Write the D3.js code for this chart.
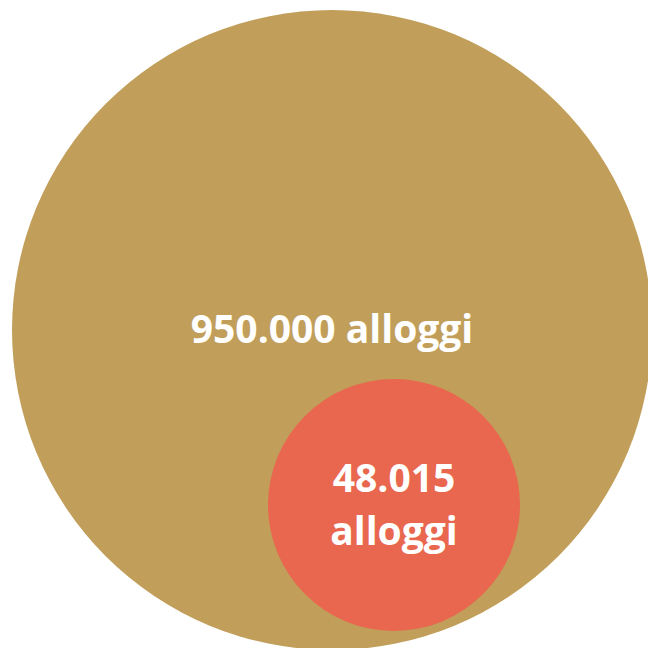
<!DOCTYPE html>
<html><head><meta charset="utf-8">
<script src="https://cdn.jsdelivr.net/npm/d3@7"></script>
<style>html,body{margin:0;padding:0;background:#fff;overflow:hidden}</style>
</head><body>
<svg id="chart" width="648" height="648"></svg>
<script>
const categories = ["totale", "pubblici"];
const values = [950000, 48015];
const labels = [["950.000 alloggi"], ["48.015", "alloggi"]];
const colors = ["#C19E5A", "#E9674E"];

const W = 648, H = 648;
const svg = d3.select("#chart");
const r = d3.scaleLinear().domain([48015, 950000]).range([126, 320]);
// centres of the circles (layout)
const cx = d3.scaleOrdinal().domain(categories).range([332, 394]);
const cy = d3.scaleOrdinal().domain(categories).range([330, 505]);

const data = categories.map((c, i) => ({c, v: values[i], lab: labels[i], col: colors[i]}));

const g = svg.selectAll("g.bubble").data(data).join("g").attr("class", "bubble");
g.append("circle")
  .attr("cx", d => cx(d.c)).attr("cy", d => cy(d.c)).attr("r", d => r(d.v))
  .attr("fill", d => d.col);

const fs = 39, lh = 53;
g.append("text")
  .attr("x", d => cx(d.c))
  .attr("y", d => cy(d.c))
  .attr("text-anchor", "middle")
  .attr("fill", "#fff")
  .attr("font-family", "'Open Sans', sans-serif")
  .attr("font-weight", 700)
  .attr("font-size", fs)
  .selectAll("tspan").data(d => d.lab.map((t, i) => ({t, i, n: d.lab.length})))
  .join("tspan")
  .attr("x", function(){ return this.parentNode.getAttribute("x"); })
  .attr("dy", (t) => t.i === 0 ? (-(t.n - 1) * lh / 2 + 13) : lh)
  .text(t => t.t);
</script>
</body></html>
